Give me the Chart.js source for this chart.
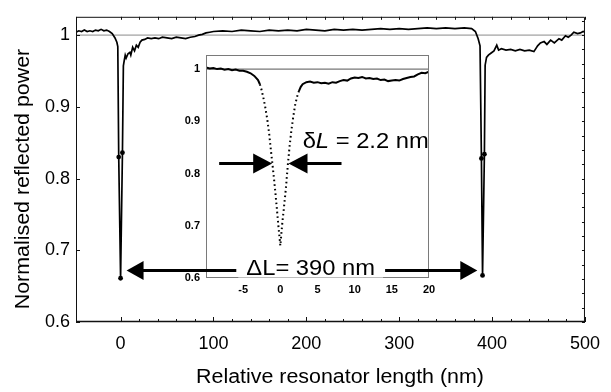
<!DOCTYPE html>
<html>
<head>
<meta charset="utf-8">
<script src="https://cdn.jsdelivr.net/npm/chart.js@4.4.1/dist/chart.umd.min.js"></script>
<style>
  html, body { margin: 0; padding: 0; background: #fff; }
  #wrap { position: relative; width: 611px; height: 392px; }
  #wrap canvas { position: absolute; left: 0; top: 0; }
</style>
</head>
<body>
<div id="wrap">
  <canvas id="scan" width="611" height="392"></canvas>
  <canvas id="zoom" width="611" height="392"></canvas>
</div>
<script>
// Full scan: normalised reflected power vs relative resonator length (nm)
const scanX = [
  -48, -45, -42, -39, -36, -33, -30, -27, -24, -21, -18, -15, -12, -9, -6, -4, -3, -2, 0, 2,
  3, 4, 5, 6, 8, 10, 11, 13, 15, 17, 19, 21, 23, 26, 29, 33, 37, 41, 45, 50,
  55, 60, 65, 70, 75, 80, 84, 88, 92, 96, 100,
  110, 120, 130, 140, 150, 160, 170, 180, 190, 200, 210, 220, 230, 240, 250, 260, 270, 280, 290, 300,
  310, 320, 330, 340, 350, 360, 370, 378,
  382, 385, 387, 388.5, 389.7, 391.7, 392.5, 394, 396, 399, 402, 405, 407, 410, 415, 420, 425, 430, 435, 440,
  445, 449, 452, 456, 459, 463, 467, 472, 475, 479, 482, 485, 488, 492, 495, 498, 500
];
const scanY = [
  1.004, 1.006, 1.005, 1.007, 1.005, 1.006, 1.005, 1.007, 1.006, 1.008, 1.006, 1.007, 1.005, 1.002, 0.996, 0.990, 0.984, 0.830, 0.661, 0.836,
  0.957, 0.965, 0.972, 0.968, 0.974, 0.976, 0.972, 0.983, 0.978, 0.986, 0.983, 0.990, 0.993, 0.994, 0.996, 0.995, 0.996, 0.995, 0.997, 0.996,
  0.995, 0.997, 0.996, 0.995, 0.997, 0.998, 1.000, 1.001, 1.003, 1.004, 1.005,
  1.006, 1.005, 1.007, 1.006, 1.005, 1.007, 1.006, 1.007, 1.006, 1.008, 1.007, 1.006, 1.008, 1.007, 1.008, 1.007, 1.008, 1.009, 1.008, 1.009,
  1.008, 1.009, 1.010, 1.009, 1.010, 1.009, 1.010, 1.009,
  1.005, 0.995, 0.985, 0.828, 0.665, 0.834, 0.958, 0.969, 0.972, 0.975, 0.978, 0.986, 0.979, 0.981, 0.979, 0.980, 0.978, 0.980, 0.978, 0.979,
  0.977, 0.985, 0.989, 0.991, 0.987, 0.993, 0.989, 0.995, 0.993, 0.999, 0.997, 1.000, 1.004, 1.002, 1.003, 1.005, 1.004
];

// Close-up of one resonance (inset)
const zoomX = [
  -10, -9.5, -9, -8.5, -8, -7.5, -7, -6.5, -6, -5.5, -5, -4.5, -4, -3.5, -3, -2.75, -2.5, -2.25, -2, -1.75,
  -1.5, -1.25, -1, -0.75, -0.5, -0.25, 0, 0.25, 0.5, 0.75, 1, 1.25, 1.5, 1.75, 2, 2.25, 2.5, 2.75, 3, 3.5,
  4, 4.5, 5, 5.5, 6, 6.5, 7, 7.5, 8, 8.5, 9, 9.5, 10, 10.5, 11, 11.5, 12, 12.5, 13, 13.5,
  14, 14.5, 15, 15.5, 16, 16.5, 17, 17.5, 18, 18.5, 19, 19.5, 20
];
const zoomY = [
  1.003, 1.001, 1.002, 1.000, 1.001, 0.999, 1.000, 0.998, 0.999, 0.997, 0.997, 0.995, 0.992, 0.987, 0.979, 0.971, 0.959, 0.943, 0.925, 0.903,
  0.876, 0.842, 0.810, 0.776, 0.738, 0.698, 0.662, 0.703, 0.737, 0.772, 0.815, 0.853, 0.884, 0.910, 0.932, 0.947, 0.958, 0.966, 0.971, 0.975,
  0.976, 0.974, 0.975, 0.973, 0.974, 0.972, 0.975, 0.974, 0.977, 0.979, 0.978, 0.982, 0.984, 0.983, 0.985, 0.982, 0.983, 0.981, 0.982, 0.979,
  0.980, 0.977, 0.978, 0.979, 0.978, 0.981, 0.983, 0.985, 0.986, 0.990, 0.993, 0.992, 0.995
];

// Axis ranges and ticks
const scanRange = [-48, 500];
const scanPowerRange = [0.6, 1.0255];
const xTicks = [0, 100, 200, 300, 400, 500];
const yTicks = [0.6, 0.7, 0.8, 0.9, 1];
const yTickLabels = ['0.6', '0.7', '0.8', '0.9', '1'];
const zoomRange = [-10, 20];
const zoomPowerRange = [0.6, 1.027];
const zoomXTicks = [-5, 0, 5, 10, 15, 20];
const zoomXTickLabels = ['-5', '0', '5', '10', '15', '20'];
const zoomYTicks = [0.6, 0.7, 0.8, 0.9, 1];
const zoomYTickLabels = ['0.6', '0.7', '0.8', '0.9', '1'];
const unity = 1;

// Annotated quantities
const freeSpectralRange = 390; // ΔL (nm)
const linewidth = 2.2;         // δL (nm)

const FONT = "'Liberation Sans', Arial, Helvetica, sans-serif";
const WIDE = 1.08; // horizontal stretch of the large labels

function arrow(ctx, tipX, y, dir, headLen, headHalf, shaftEnd, width) {
  // dir = +1: arrow points right; -1: points left. shaftEnd is the far x of the shaft.
  ctx.beginPath();
  ctx.moveTo(tipX, y);
  ctx.lineTo(tipX - dir * headLen, y - headHalf);
  ctx.lineTo(tipX - dir * headLen, y + headHalf);
  ctx.closePath();
  ctx.fill();
  ctx.lineWidth = width;
  ctx.beginPath();
  ctx.moveTo(tipX - dir * (headLen - 1), y);
  ctx.lineTo(shaftEnd, y);
  ctx.stroke();
}

function wideText(ctx, text, x, y, stretch) {
  ctx.save();
  ctx.translate(x, y);
  ctx.scale(stretch, 1);
  ctx.fillText(text, 0, 0);
  ctx.restore();
  return ctx.measureText(text).width * stretch;
}

// Frame, inward tick marks and axis titles of the full scan
const scanFrame = {
  id: 'scanFrame',
  afterDraw(chart) {
    const { ctx, chartArea: a, scales: { x, y } } = chart;
    ctx.save();
    ctx.strokeStyle = '#111';
    ctx.lineWidth = 1;
    ctx.beginPath();
    ctx.moveTo(a.left + 0.5, a.top + 0.5);
    ctx.lineTo(a.right - 0.5, a.top + 0.5);
    ctx.lineTo(a.right - 0.5, a.bottom);
    ctx.moveTo(a.left + 0.5, a.top);
    ctx.lineTo(a.left + 0.5, a.bottom);
    ctx.stroke();
    ctx.lineWidth = 1.6;
    ctx.beginPath();
    ctx.moveTo(a.left, a.bottom - 0.5);
    ctx.lineTo(a.right, a.bottom - 0.5);
    ctx.stroke();

    ctx.lineWidth = 1;
    ctx.beginPath();
    for (let v = 0; v <= 500; v += 20) {
      const px = Math.round(x.getPixelForValue(v)) + 0.5;
      const major = xTicks.includes(v);
      ctx.moveTo(px, a.bottom);
      ctx.lineTo(px, a.bottom - (major ? 5 : 3));
      ctx.moveTo(px, a.top);
      ctx.lineTo(px, a.top + 3);
    }
    for (let k = 0; k <= 21; k++) {
      const py = Math.round(y.getPixelForValue(0.6 + k * 0.02)) + 0.5;
      ctx.moveTo(a.right, py);
      ctx.lineTo(a.right - 3, py);
    }
    yTicks.forEach(v => {
      const py = Math.round(y.getPixelForValue(v)) + 0.5;
      ctx.moveTo(a.left, py);
      ctx.lineTo(a.left + 4, py);
    });
    ctx.stroke();

    ctx.fillStyle = '#000';
    ctx.font = `20px ${FONT}`;
    ctx.textAlign = 'center';
    ctx.textBaseline = 'middle';
    wideText(ctx, 'Relative resonator length (nm)', 340, 377, 1.07);
    ctx.translate(23, 179);
    ctx.rotate(-Math.PI / 2);
    wideText(ctx, 'Normalised reflected power', 0, 0, 1.07);
    ctx.restore();
  }
};

const scanChart = new Chart(document.getElementById('scan'), {
  type: 'line',
  data: {
    datasets: [
      {
        data: scanX.map((x, i) => ({ x, y: scanY[i] })),
        borderColor: '#000',
        borderWidth: 1.7,
        pointRadius: c => (scanY[c.dataIndex] < 0.9 ? 2.4 : 0),
        pointBackgroundColor: '#000',
        pointBorderWidth: 0,
        tension: 0,
        order: 0
      },
      {
        data: scanRange.map(x => ({ x, y: unity })),
        borderColor: '#8a8a8a',
        borderWidth: 1,
        pointRadius: 0,
        order: 1
      }
    ]
  },
  options: {
    responsive: false,
    animation: false,
    devicePixelRatio: 1,
    layout: { padding: { left: 0, right: 20, top: 5, bottom: 0 } },
    plugins: { legend: { display: false }, tooltip: { enabled: false } },
    scales: {
      x: {
        type: 'linear',
        min: scanRange[0],
        max: scanRange[1],
        afterFit: s => { s.height = 70; },
        afterBuildTicks: s => { s.ticks = xTicks.map(v => ({ value: v })); },
        ticks: {
          autoSkip: false, maxRotation: 0, padding: 11, color: '#000',
          font: { family: FONT, size: 18 },
          callback: v => String(v)
        },
        grid: { display: false, drawTicks: false },
        border: { display: false }
      },
      y: {
        min: scanPowerRange[0],
        max: scanPowerRange[1],
        afterFit: s => { s.width = 76; },
        afterBuildTicks: s => { s.ticks = yTicks.map(v => ({ value: v })); },
        ticks: {
          padding: 6, color: '#000',
          font: { family: FONT, size: 18 },
          callback: v => yTickLabels[yTicks.indexOf(v)]
        },
        grid: { display: false, drawTicks: false },
        border: { display: false }
      }
    }
  },
  plugins: [scanFrame]
});

// Inset background/border plus the ΔL and δL annotations
const zoomFrame = {
  id: 'zoomFrame',
  beforeDraw(chart) {
    const { ctx, chartArea: a } = chart;
    ctx.save();
    ctx.fillStyle = '#fff';
    ctx.fillRect(a.left, a.top, a.right - a.left, a.bottom - a.top);
    ctx.restore();
  },
  afterDraw(chart) {
    const { ctx, chartArea: a, scales: { x, y } } = chart;
    ctx.save();
    ctx.strokeStyle = '#7a7a7a';
    ctx.lineWidth = 1;
    ctx.strokeRect(a.left + 0.5, a.top + 0.5, a.right - a.left - 1, a.bottom - a.top - 1);

    // ΔL arrow between the two resonances of the full scan
    const sx = scanChart.scales.x, sy = scanChart.scales.y;
    const p0 = sx.getPixelForValue(0);
    const p1 = sx.getPixelForValue(freeSpectralRange);
    const ay = Math.round(sy.getPixelForValue(0.6725)) + 0.5;
    ctx.font = `22px ${FONT}`;
    ctx.textAlign = 'left';
    ctx.textBaseline = 'alphabetic';
    const label = 'ΔL= ' + freeSpectralRange + ' nm';
    const tw = ctx.measureText(label).width * WIDE;
    const tx = (p0 + p1) / 2 + 9 - tw / 2;
    ctx.fillStyle = '#000';
    ctx.strokeStyle = '#000';
    arrow(ctx, p0 + 6, ay, -1, 17, 9.5, tx - 10, 3);
    arrow(ctx, p1 - 5.5, ay, 1, 17, 9.5, tx + tw + 10, 3);
    ctx.fillStyle = '#fff';
    ctx.fillRect(tx - 8, ay - 17, tw + 16, 24);
    ctx.fillStyle = '#000';
    wideText(ctx, label, tx, ay + 4, WIDE);

    // δL arrows on the close-up
    const dy = Math.round(y.getPixelForValue(0.821)) + 0.5;
    const l = x.getPixelForValue(-linewidth / 2);
    const r = x.getPixelForValue(linewidth / 2);
    arrow(ctx, l, dy, 1, 19, 10, l - 19 - 34, 3);
    arrow(ctx, r, dy, -1, 19, 10, r + 19 + 34, 3);

    let lx = x.getPixelForValue(3.0);
    const ly = y.getPixelForValue(0.849);
    ctx.font = `22px ${FONT}`;
    lx += wideText(ctx, 'δ', lx, ly, WIDE);
    ctx.font = `italic 22px ${FONT}`;
    lx += wideText(ctx, 'L', lx, ly, WIDE);
    ctx.font = `22px ${FONT}`;
    wideText(ctx, ' = ' + linewidth + ' nm', lx, ly, WIDE);
    ctx.restore();
  }
};

new Chart(document.getElementById('zoom'), {
  type: 'line',
  data: {
    datasets: [
      {
        data: zoomX.map((x, i) => ({ x, y: zoomY[i] })),
        borderColor: '#000',
        borderWidth: 2,
        borderCapStyle: 'butt',
        pointRadius: 0,
        tension: 0,
        segment: {
          borderDash: c => (Math.abs(c.p1.y - c.p0.y) > 3 * Math.abs(c.p1.x - c.p0.x) ? [1.6, 3] : undefined)
        },
        order: 0
      },
      {
        data: zoomRange.map(x => ({ x, y: unity })),
        borderColor: '#555',
        borderWidth: 1,
        pointRadius: 0,
        order: 1
      }
    ]
  },
  options: {
    responsive: false,
    animation: false,
    devicePixelRatio: 1,
    layout: { padding: { left: 176, right: 182, top: 55, bottom: 94 } },
    plugins: { legend: { display: false }, tooltip: { enabled: false } },
    scales: {
      x: {
        type: 'linear',
        min: zoomRange[0],
        max: zoomRange[1],
        afterFit: s => { s.height = 20; },
        afterBuildTicks: s => { s.ticks = zoomXTicks.map(v => ({ value: v })); },
        ticks: {
          autoSkip: false, maxRotation: 0, padding: 5, color: '#000',
          font: { family: FONT, size: 11, weight: 'bold' },
          callback: v => zoomXTickLabels[zoomXTicks.indexOf(v)]
        },
        grid: { display: false, drawTicks: false },
        border: { display: false }
      },
      y: {
        min: zoomPowerRange[0],
        max: zoomPowerRange[1],
        afterFit: s => { s.width = 30; },
        afterBuildTicks: s => { s.ticks = zoomYTicks.map(v => ({ value: v })); },
        ticks: {
          padding: 6, color: '#000',
          font: { family: FONT, size: 11, weight: 'bold' },
          callback: v => zoomYTickLabels[zoomYTicks.indexOf(v)]
        },
        grid: { display: false, drawTicks: false },
        border: { display: false }
      }
    }
  },
  plugins: [zoomFrame]
});
</script>
</body>
</html>
